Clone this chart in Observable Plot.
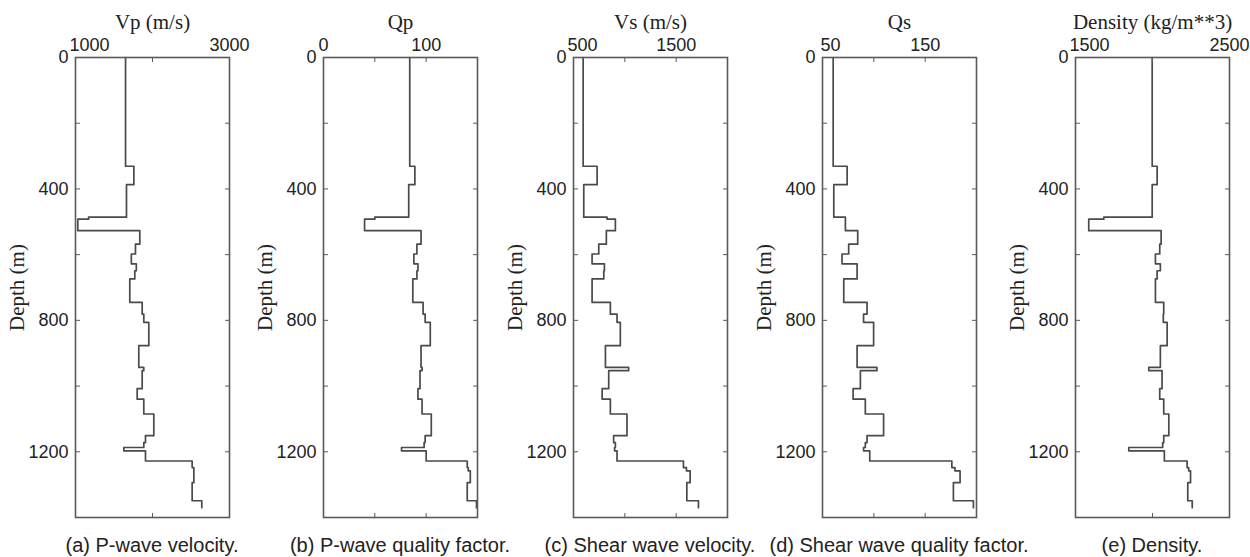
<!DOCTYPE html>
<html><head><meta charset="utf-8">
<script src="https://cdn.jsdelivr.net/npm/d3@7"></script>
<script src="https://cdn.jsdelivr.net/npm/@observablehq/plot@0.6"></script>
<style>
body{margin:0;background:#fff;}
#root{position:relative;width:1250px;height:557px;overflow:hidden;background:#fff;}
.panel{position:absolute;top:0;width:259px;}
.panel svg{max-width:none !important;}
.cap{position:absolute;top:532px;font-family:"Liberation Sans",Arial,sans-serif;font-size:20px;color:#222;text-align:center;width:320px;white-space:nowrap;line-height:26px;}
</style></head><body><div id="root"></div>
<script>
// Layer top depths (m); the last entry is the bottom of the log
const depths = [0, 331, 387, 486, 492, 527, 568, 598, 628, 649, 674, 745, 781, 806, 877, 943, 953, 1008, 1040, 1085, 1151, 1172, 1187, 1197, 1228, 1248, 1258, 1294, 1349, 1370];
const vp  = [1650, 1758, 1662, 1170, 1030, 1835, 1779, 1725, 1790, 1770, 1705, 1866, 1887, 1952, 1822, 1887, 1866, 1801, 1887, 2017, 1909, 1887, 1628, 1909, 2515, 2537, 2537, 2515, 2640];
const qp  = [84, 89, 83, 50, 40, 95, 91, 88, 92, 91, 87, 97, 99, 104, 95, 96, 94, 92, 96, 105, 99, 98, 76, 100, 140, 141, 143, 140, 149];
const vs  = [594, 730, 600, 827, 908, 820, 746, 681, 801, 795, 681, 859, 924, 956, 811, 1037, 843, 779, 859, 1021, 891, 908, 900, 924, 1571, 1600, 1636, 1604, 1717];
const qs  = [60.4, 74, 61, 72.3, 72.3, 84.3, 75.5, 69, 83.7, 83.7, 70.7, 93.4, 90, 99.8, 83.7, 103, 86.9, 79.8, 91.7, 109.5, 93.4, 91.7, 90, 96, 176, 179, 184, 177.5, 197];
const rho = [1998, 2030, 1998, 1684, 1586, 2056, 2047, 2019, 2051, 2030, 2019, 2073, 2070, 2095, 2051, 1976, 2062, 2047, 2073, 2106, 2073, 2066, 1846, 2077, 2225, 2235, 2247, 2229, 2258];

const titles   = ["Vp (m/s)", "Qp", "Vs (m/s)", "Qs", "Density (kg/m**3)"];
const captions = ["(a) P-wave velocity.", "(b) P-wave quality factor.", "(c) Shear wave velocity.", "(d) Shear wave quality factor.", "(e) Density."];
const domains  = [[1000, 3000], [0, 150], [500, 2000], [50, 200], [1500, 2500]];
const xTickMarks  = [[2000], [50, 100], [1000, 1500], [100, 150], [2000]];
const xFirstLabel = [1000, 0, 500, 50, 1500];
const xLastLabel  = [3000, 100, 1500, 150, 2500];
const yTickMarks  = [200, 400, 600, 800, 1000, 1200];
const yTickLabels = [0, 400, 800, 1200];
const yLabel = "Depth (m)";
const series = [vp, qp, vs, qs, rho];

// layout
const frameLefts = [75, 323, 573, 822, 1075];
const firstLabelShift = [14, 0, 9, 8, 14];
const mL = 75, mR = 30, fW = 154;
const sans = "'Liberation Sans', Arial, sans-serif";
const serif = "'Liberation Serif', 'Times New Roman', serif";
const fmt = d => String(d);
const root = document.getElementById("root");

series.forEach((vals, i) => {
  const rows = depths.map((d, j) => ({depth: d, value: vals[Math.min(j, vals.length - 1)]}));
  const chart = Plot.plot({
    width: mL + fW + mR, height: 530,
    marginLeft: mL, marginRight: mR, marginTop: 57, marginBottom: 13,
    style: {fontFamily: sans, fontSize: "18px", color: "#222", background: "transparent", overflow: "visible"},
    x: {domain: domains[i]},
    y: {domain: [0, 1400], reverse: true},
    marks: [
      Plot.line(rows, {x: "value", y: "depth", curve: "step-before", stroke: "#4a4a4a", strokeWidth: 1.7}),
      Plot.frame({stroke: "#5a5a5a", strokeWidth: 1.6}),
      Plot.axisY(yTickMarks, {anchor: "left", tickSize: -5, tickFormat: () => "", label: null, stroke: "#5a5a5a"}),
      Plot.axisY(yTickMarks, {anchor: "right", tickSize: -5, tickFormat: () => "", label: null, stroke: "#5a5a5a"}),
      Plot.axisY(yTickLabels, {anchor: "left", tickSize: 0, tickPadding: 7, tickFormat: fmt, label: null, fontSize: 18, fill: "#222"}),
      Plot.axisX(xTickMarks[i], {anchor: "top", tickSize: -4, tickFormat: () => "", label: null, stroke: "#5a5a5a"}),
      Plot.axisX(xTickMarks[i], {anchor: "bottom", tickSize: -4, tickFormat: () => "", label: null, stroke: "#5a5a5a"}),
      Plot.axisX([xFirstLabel[i]], {anchor: "top", tickSize: 0, tickPadding: 7, dx: firstLabelShift[i], tickFormat: fmt, label: null, fontSize: 18, fill: "#222"}),
      Plot.axisX([xLastLabel[i]], {anchor: "top", tickSize: 0, tickPadding: 7, tickFormat: fmt, label: null, fontSize: 18, fill: "#222"}),
      Plot.text([titles[i]], {frameAnchor: "top", dy: -35, lineAnchor: "middle", textAnchor: "middle", fontFamily: serif, fontSize: 21, fill: "#222"}),
      Plot.text([yLabel], {frameAnchor: "left", rotate: -90, dx: -58, textAnchor: "middle", lineAnchor: "middle", fontFamily: serif, fontSize: 21, fill: "#222"})
    ]
  });
  const div = document.createElement("div");
  div.className = "panel";
  div.style.left = (frameLefts[i] - mL) + "px";
  div.appendChild(chart);
  root.appendChild(div);
  const cap = document.createElement("div");
  cap.className = "cap";
  cap.textContent = captions[i];
  cap.style.left = (frameLefts[i] + fW / 2 - 160) + "px";
  root.appendChild(cap);
});
</script></body></html>
